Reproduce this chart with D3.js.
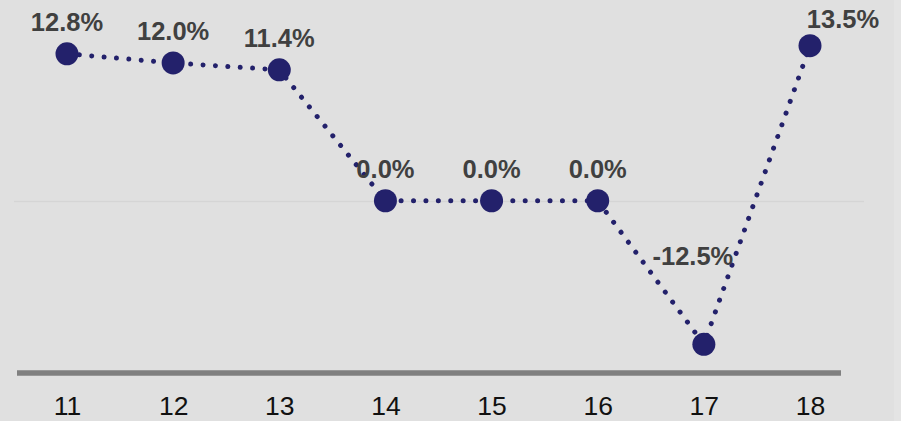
<!DOCTYPE html>
<html>
<head>
<meta charset="utf-8">
<script src="https://cdn.jsdelivr.net/npm/d3@7"></script>
<style>
  html, body { margin: 0; padding: 0; background: #e4e4e4; }
  svg { display: block; }
</style>
</head>
<body>
<div id="chart"></div>
<script>
// ---- data ----
const categories = ["11", "12", "13", "14", "15", "16", "17", "18"];
const values = [12.8, 12.0, 11.4, 0.0, 0.0, 0.0, -12.5, 13.5];
const valueLabels = ["12.8%", "12.0%", "11.4%", "0.0%", "0.0%", "0.0%", "-12.5%", "13.5%"];
const yDomain = [-15, 15];

// ---- layout ----
const W = 901, H = 421;
const svg = d3.select("#chart").append("svg").attr("width", W).attr("height", H);
svg.append("rect").attr("x", 0).attr("y", 0).attr("width", 894).attr("height", H).attr("fill", "#e0e0e0");

const x = d3.scalePoint().domain(categories).range([67, 810]);
const y = d3.scaleLinear().domain(yDomain).range([373, 28.5]);

const font = "'Liberation Sans', Arial, Helvetica, sans-serif";
const navy = "#23216b";

// zero gridline
svg.append("line")
  .attr("x1", 14).attr("x2", 864)
  .attr("y1", Math.round(y(0)) + 0.5).attr("y2", Math.round(y(0)) + 0.5)
  .attr("stroke", "#d5d5d5").attr("stroke-width", 1.5);

// x axis
const axis = svg.append("g").attr("transform", `translate(0,${y(yDomain[0])})`)
  .call(d3.axisBottom(x).tickSize(0).tickPadding(0));
axis.select(".domain").remove();
axis.selectAll("text")
  .attr("y", 42).attr("dy", 0)
  .attr("font-family", font).attr("font-size", 26.5)
  .attr("fill", "#111");
svg.append("line")
  .attr("x1", 17).attr("x2", 841)
  .attr("y1", y(yDomain[0])).attr("y2", y(yDomain[0]))
  .attr("stroke", "#808080").attr("stroke-width", 5.5);

// dotted line
const pts = categories.map((c, i) => ({ c, v: values[i], label: valueLabels[i] }));
const line = d3.line().x(d => x(d.c)).y(d => y(d.v));
svg.append("path").datum(pts)
  .attr("d", line)
  .attr("fill", "none")
  .attr("stroke", navy)
  .attr("stroke-width", 5)
  .attr("stroke-linecap", "round")
  .attr("stroke-dasharray", "0.01 12.4");

// markers
svg.selectAll("circle.m").data(pts).join("circle")
  .attr("class", "m")
  .attr("cx", d => x(d.c)).attr("cy", d => y(d.v))
  .attr("r", 11.5).attr("fill", navy);

// labels (default above; a couple nudged to avoid the line, as in the source)
const nudge = { "18": [33, 5], "17": [-11, -56] };
svg.selectAll("text.lbl").data(pts).join("text")
  .attr("class", "lbl")
  .attr("x", d => x(d.c) + (nudge[d.c] ? nudge[d.c][0] : 0))
  .attr("y", d => y(d.v) - 23 + (nudge[d.c] ? nudge[d.c][1] : 0))
  .attr("text-anchor", "middle")
  .attr("font-family", font).attr("font-size", 25.5).attr("font-weight", "bold")
  .attr("fill", "#404040")
  .text(d => d.label);
</script>
</body>
</html>
